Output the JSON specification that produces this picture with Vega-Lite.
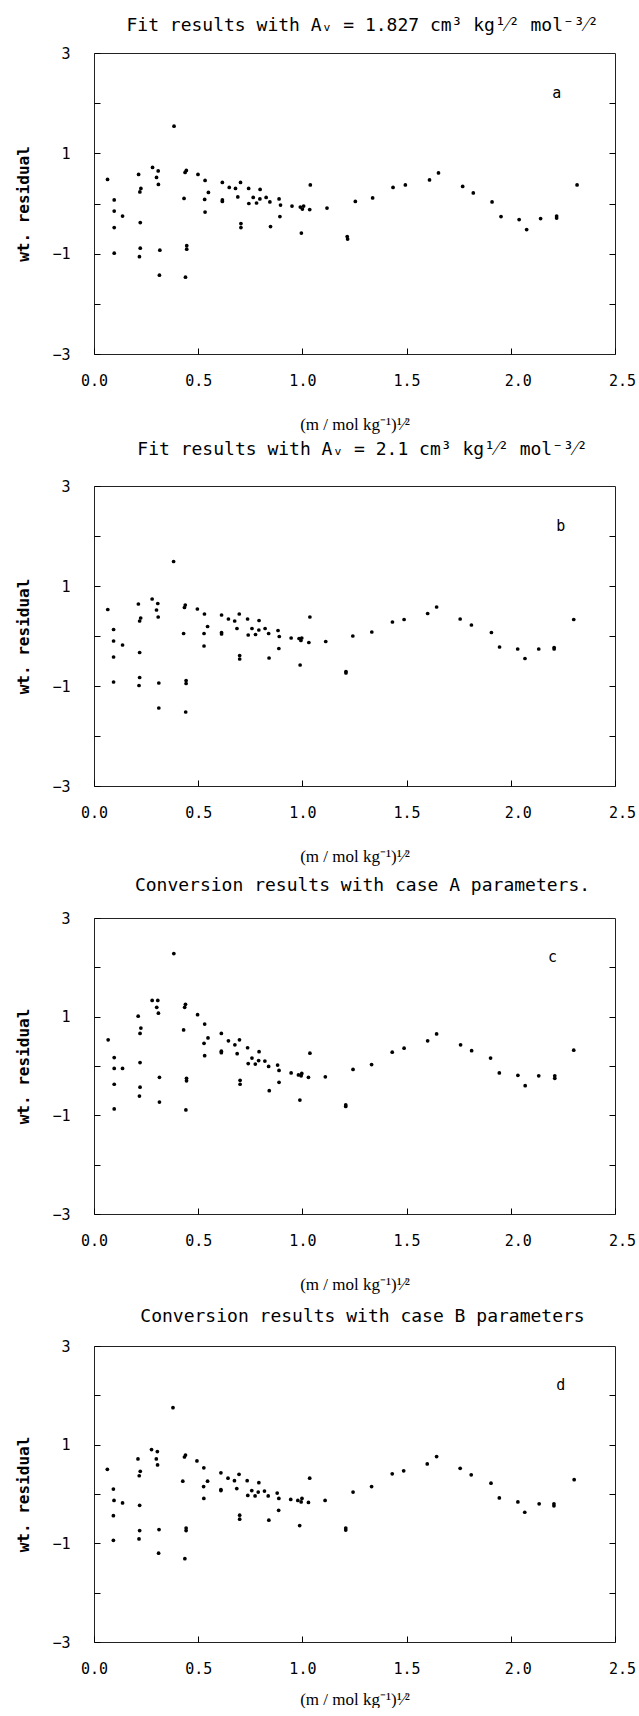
{
  "$schema": "https://vega.github.io/schema/vega-lite/v6.json",
  "padding": {"left": 15, "top": 16, "right": 5, "bottom": 0},
  "spacing": 132,
  "bounds": "flush",
  "config": {
    "view": {"stroke": "#222", "strokeWidth": 1},
    "axis": {"labelFont": "DejaVu Sans Mono", "labelFontSize": 15, "labelColor": "#000", "titleFont": "DejaVu Sans Mono", "titleColor": "#000", "tickColor": "#000", "grid": false, "domain": false},
    "axisX": {"labelFlush": false, "labelOffset": {"condition": {"test": "datum.value >= 1.9", "value": 7}, "value": 0}},
    "title": {"font": "DejaVu Sans Mono", "fontSize": 18, "fontWeight": "normal", "color": "#000", "anchor": "middle", "frame": "group", "offset": 11, "dx": 8}
  },
  "datasets": {
    "a": [
      {"x":0.065,"y":0.48},{"x":0.097,"y":0.07},{"x":0.097,"y":-0.15},{"x":0.097,"y":-0.48},{"x":0.097,"y":-0.99},{"x":0.137,"y":-0.25},
      {"x":0.214,"y":0.58},{"x":0.22,"y":0.23},{"x":0.225,"y":0.30},{"x":0.222,"y":-0.38},{"x":0.222,"y":-0.89},{"x":0.218,"y":-1.06},
      {"x":0.281,"y":0.72},{"x":0.308,"y":0.65},{"x":0.30,"y":0.52},{"x":0.309,"y":0.38},{"x":0.316,"y":-0.93},{"x":0.314,"y":-1.43},
      {"x":0.384,"y":1.54},{"x":0.432,"y":0.10},{"x":0.437,"y":0.62},{"x":0.443,"y":0.66},{"x":0.445,"y":-0.84},{"x":0.445,"y":-0.91},{"x":0.439,"y":-1.47},
      {"x":0.499,"y":0.58},{"x":0.533,"y":0.46},{"x":0.549,"y":0.22},{"x":0.531,"y":0.08},{"x":0.533,"y":-0.17},
      {"x":0.616,"y":0.42},{"x":0.616,"y":0.07},{"x":0.616,"y":0.04},{"x":0.649,"y":0.32},{"x":0.679,"y":0.30},{"x":0.703,"y":0.42},{"x":0.69,"y":0.13},
      {"x":0.705,"y":-0.40},{"x":0.705,"y":-0.48},{"x":0.742,"y":0.30},{"x":0.743,"y":0.0},{"x":0.764,"y":0.12},{"x":0.78,"y":0.01},{"x":0.797,"y":0.28},
      {"x":0.796,"y":0.09},{"x":0.826,"y":0.12},{"x":0.844,"y":0.03},{"x":0.847,"y":-0.46},{"x":0.888,"y":0.09},{"x":0.895,"y":-0.03},{"x":0.892,"y":-0.26},
      {"x":0.95,"y":-0.05},{"x":0.99,"y":-0.07},{"x":1.0,"y":-0.11},{"x":1.006,"y":-0.05},{"x":0.995,"y":-0.59},{"x":1.038,"y":0.37},{"x":1.035,"y":-0.12},
      {"x":1.118,"y":-0.09},{"x":1.215,"y":-0.66},{"x":1.217,"y":-0.71},{"x":1.254,"y":0.04},{"x":1.337,"y":0.11},{"x":1.435,"y":0.32},{"x":1.494,"y":0.37},
      {"x":1.61,"y":0.47},{"x":1.653,"y":0.61},{"x":1.769,"y":0.34},{"x":1.82,"y":0.21},{"x":1.91,"y":0.03},{"x":1.953,"y":-0.26},{"x":2.04,"y":-0.32},
      {"x":2.076,"y":-0.52},{"x":2.143,"y":-0.30},{"x":2.22,"y":-0.25},{"x":2.22,"y":-0.29},{"x":2.318,"y":0.37}
    ],
    "b": [
      {"x":0.066,"y":0.53},{"x":0.094,"y":0.13},{"x":0.094,"y":-0.10},{"x":0.094,"y":-0.42},{"x":0.094,"y":-0.92},{"x":0.137,"y":-0.18},
      {"x":0.213,"y":0.64},{"x":0.219,"y":0.30},{"x":0.224,"y":0.36},{"x":0.219,"y":-0.33},{"x":0.219,"y":-0.83},{"x":0.216,"y":-0.99},
      {"x":0.279,"y":0.74},{"x":0.306,"y":0.65},{"x":0.30,"y":0.52},{"x":0.308,"y":0.38},{"x":0.311,"y":-0.94},{"x":0.311,"y":-1.44},
      {"x":0.382,"y":1.49},{"x":0.43,"y":0.05},{"x":0.434,"y":0.57},{"x":0.438,"y":0.62},{"x":0.442,"y":-0.89},{"x":0.442,"y":-0.95},{"x":0.44,"y":-1.52},
      {"x":0.496,"y":0.54},{"x":0.53,"y":0.44},{"x":0.545,"y":0.19},{"x":0.528,"y":0.05},{"x":0.528,"y":-0.20},
      {"x":0.612,"y":0.42},{"x":0.612,"y":0.07},{"x":0.612,"y":0.04},{"x":0.645,"y":0.34},{"x":0.675,"y":0.30},{"x":0.697,"y":0.44},{"x":0.686,"y":0.15},
      {"x":0.699,"y":-0.39},{"x":0.699,"y":-0.46},{"x":0.737,"y":0.34},{"x":0.74,"y":0.02},{"x":0.758,"y":0.15},{"x":0.775,"y":0.03},{"x":0.792,"y":0.31},
      {"x":0.791,"y":0.12},{"x":0.821,"y":0.15},{"x":0.838,"y":0.05},{"x":0.84,"y":-0.44},{"x":0.883,"y":0.11},{"x":0.889,"y":-0.01},{"x":0.887,"y":-0.25},
      {"x":0.946,"y":-0.04},{"x":0.984,"y":-0.05},{"x":0.993,"y":-0.09},{"x":0.997,"y":-0.04},{"x":0.989,"y":-0.58},{"x":1.036,"y":0.38},{"x":1.031,"y":-0.13},
      {"x":1.112,"y":-0.11},{"x":1.209,"y":-0.71},{"x":1.209,"y":-0.74},{"x":1.242,"y":0.0},{"x":1.333,"y":0.08},{"x":1.432,"y":0.28},{"x":1.488,"y":0.33},
      {"x":1.601,"y":0.45},{"x":1.644,"y":0.58},{"x":1.757,"y":0.34},{"x":1.811,"y":0.22},{"x":1.907,"y":0.07},{"x":1.946,"y":-0.22},{"x":2.033,"y":-0.26},
      {"x":2.068,"y":-0.45},{"x":2.134,"y":-0.26},{"x":2.208,"y":-0.23},{"x":2.208,"y":-0.26},{"x":2.302,"y":0.33}
    ],
    "c": [
      {"x":0.068,"y":0.53},{"x":0.097,"y":0.17},{"x":0.097,"y":-0.05},{"x":0.097,"y":-0.37},{"x":0.097,"y":-0.87},{"x":0.137,"y":-0.05},
      {"x":0.212,"y":1.01},{"x":0.225,"y":0.77},{"x":0.221,"y":0.66},{"x":0.221,"y":0.07},{"x":0.221,"y":-0.43},{"x":0.218,"y":-0.61},
      {"x":0.279,"y":1.33},{"x":0.306,"y":1.33},{"x":0.301,"y":1.19},{"x":0.309,"y":1.07},{"x":0.314,"y":-0.23},{"x":0.314,"y":-0.73},
      {"x":0.383,"y":2.28},{"x":0.43,"y":0.73},{"x":0.435,"y":1.19},{"x":0.439,"y":1.25},{"x":0.444,"y":-0.25},{"x":0.444,"y":-0.30},{"x":0.441,"y":-0.89},
      {"x":0.497,"y":1.04},{"x":0.531,"y":0.85},{"x":0.547,"y":0.57},{"x":0.528,"y":0.46},{"x":0.531,"y":0.21},
      {"x":0.611,"y":0.66},{"x":0.611,"y":0.30},{"x":0.611,"y":0.27},{"x":0.645,"y":0.51},{"x":0.676,"y":0.43},{"x":0.698,"y":0.53},{"x":0.687,"y":0.25},
      {"x":0.701,"y":-0.29},{"x":0.701,"y":-0.37},{"x":0.737,"y":0.37},{"x":0.74,"y":0.05},{"x":0.758,"y":0.16},{"x":0.774,"y":0.04},{"x":0.792,"y":0.29},
      {"x":0.79,"y":0.11},{"x":0.82,"y":0.10},{"x":0.838,"y":-0.01},{"x":0.841,"y":-0.50},{"x":0.881,"y":0.02},{"x":0.888,"y":-0.09},{"x":0.888,"y":-0.33},
      {"x":0.946,"y":-0.14},{"x":0.981,"y":-0.18},{"x":0.994,"y":-0.20},{"x":0.997,"y":-0.15},{"x":0.988,"y":-0.69},{"x":1.036,"y":0.26},{"x":1.029,"y":-0.23},
      {"x":1.11,"y":-0.22},{"x":1.208,"y":-0.79},{"x":1.208,"y":-0.82},{"x":1.243,"y":-0.07},{"x":1.332,"y":0.03},{"x":1.431,"y":0.28},{"x":1.488,"y":0.36},
      {"x":1.601,"y":0.51},{"x":1.644,"y":0.65},{"x":1.759,"y":0.43},{"x":1.812,"y":0.31},{"x":1.903,"y":0.16},{"x":1.945,"y":-0.14},{"x":2.034,"y":-0.19},
      {"x":2.069,"y":-0.40},{"x":2.134,"y":-0.20},{"x":2.211,"y":-0.20},{"x":2.211,"y":-0.25},{"x":2.302,"y":0.32}
    ],
    "d": [
      {"x":0.064,"y":0.50},{"x":0.093,"y":0.10},{"x":0.096,"y":-0.13},{"x":0.093,"y":-0.44},{"x":0.093,"y":-0.94},{"x":0.137,"y":-0.18},
      {"x":0.211,"y":0.71},{"x":0.222,"y":0.46},{"x":0.217,"y":0.37},{"x":0.219,"y":-0.23},{"x":0.219,"y":-0.74},{"x":0.216,"y":-0.91},
      {"x":0.276,"y":0.90},{"x":0.304,"y":0.86},{"x":0.299,"y":0.71},{"x":0.305,"y":0.59},{"x":0.312,"y":-0.72},{"x":0.310,"y":-1.20},
      {"x":0.379,"y":1.75},{"x":0.426,"y":0.26},{"x":0.434,"y":0.75},{"x":0.439,"y":0.79},{"x":0.442,"y":-0.69},{"x":0.442,"y":-0.74},{"x":0.436,"y":-1.31},
      {"x":0.494,"y":0.67},{"x":0.527,"y":0.53},{"x":0.545,"y":0.26},{"x":0.526,"y":0.15},{"x":0.527,"y":-0.09},
      {"x":0.609,"y":0.43},{"x":0.609,"y":0.09},{"x":0.609,"y":0.07},{"x":0.643,"y":0.32},{"x":0.674,"y":0.27},{"x":0.696,"y":0.40},{"x":0.685,"y":0.11},
      {"x":0.699,"y":-0.43},{"x":0.699,"y":-0.51},{"x":0.735,"y":0.27},{"x":0.738,"y":-0.03},{"x":0.757,"y":0.07},{"x":0.773,"y":-0.04},{"x":0.791,"y":0.23},
      {"x":0.788,"y":0.04},{"x":0.818,"y":0.06},{"x":0.836,"y":-0.04},{"x":0.839,"y":-0.53},{"x":0.879,"y":0.02},{"x":0.887,"y":-0.09},{"x":0.886,"y":-0.33},
      {"x":0.944,"y":-0.11},{"x":0.978,"y":-0.13},{"x":0.994,"y":-0.16},{"x":0.998,"y":-0.09},{"x":0.987,"y":-0.64},{"x":1.035,"y":0.32},{"x":1.029,"y":-0.17},
      {"x":1.109,"y":-0.13},{"x":1.208,"y":-0.69},{"x":1.208,"y":-0.73},{"x":1.243,"y":0.04},{"x":1.332,"y":0.15},{"x":1.431,"y":0.41},{"x":1.486,"y":0.47},
      {"x":1.599,"y":0.61},{"x":1.644,"y":0.76},{"x":1.757,"y":0.52},{"x":1.81,"y":0.39},{"x":1.905,"y":0.22},{"x":1.945,"y":-0.08},{"x":2.034,"y":-0.16},
      {"x":2.067,"y":-0.37},{"x":2.136,"y":-0.20},{"x":2.207,"y":-0.20},{"x":2.207,"y":-0.24},{"x":2.304,"y":0.29}
    ]
  },
  "vconcat": [
    {
      "width": 521, "height": 301,
      "title": {"text": "Fit results with Aᵥ = 1.827 cm³ kg¹⁄² mol⁻³⁄²", "offset": 11},
      "resolve": {"axis": {"x": "independent", "y": "independent"}},
      "layer": [
        {"data": {"name": "a"}, "mark": {"type": "point", "filled": true, "size": 14, "color": "#000", "opacity": 1},
         "encoding": {
           "x": {"field": "x", "type": "quantitative", "scale": {"domain": [0, 2.5], "nice": false, "zero": false}, "axis": {"values": [0, 0.5, 1, 1.5, 2, 2.5], "format": ".1f", "tickSize": -6, "labelPadding": 25, "title": "(m / mol kg⁻¹)¹⁄²", "titleFont": "Liberation Serif", "titleFontSize": 17, "titleFontWeight": "normal", "titlePadding": 28}},
           "y": {"field": "y", "type": "quantitative", "scale": {"domain": [-3, 3], "nice": false}, "axis": {"values": [-3, -2, -1, 0, 1, 2, 3], "labelExpr": "abs(datum.value) % 2 == 1 ? datum.label : ''", "tickSize": -6, "labelPadding": 30, "title": "wt. residual", "titleFontSize": 16, "titleFontWeight": "bold", "titlePadding": 20}}
         }},
        {"mark": {"type": "rule", "color": "#000", "strokeWidth": 1.3},
         "encoding": {"y": {"datum": 0, "type": "quantitative", "axis": {"orient": "right", "labels": false, "tickSize": -6, "values": [-2, -1, 0, 1, 2], "title": null}}}},
        {"data": {"values": [{"t": "a"}]}, "mark": {"type": "text", "fontSize": 15, "font": "DejaVu Sans Mono", "color": "#000"},
         "encoding": {"x": {"datum": 2.22, "type": "quantitative", "axis": null}, "y": {"datum": 2.2, "type": "quantitative", "axis": null}, "text": {"field": "t"}}}
      ]
    },
    {
      "width": 521, "height": 300,
      "title": {"text": "Fit results with Aᵥ = 2.1 cm³ kg¹⁄² mol⁻³⁄²", "offset": 20},
      "resolve": {"axis": {"x": "independent", "y": "independent"}},
      "layer": [
        {"data": {"name": "b"}, "mark": {"type": "point", "filled": true, "size": 14, "color": "#000", "opacity": 1},
         "encoding": {
           "x": {"field": "x", "type": "quantitative", "scale": {"domain": [0, 2.5], "nice": false, "zero": false}, "axis": {"values": [0, 0.5, 1, 1.5, 2, 2.5], "format": ".1f", "tickSize": -6, "labelPadding": 25, "title": "(m / mol kg⁻¹)¹⁄²", "titleFont": "Liberation Serif", "titleFontSize": 17, "titleFontWeight": "normal", "titlePadding": 28}},
           "y": {"field": "y", "type": "quantitative", "scale": {"domain": [-3, 3], "nice": false}, "axis": {"values": [-3, -2, -1, 0, 1, 2, 3], "labelExpr": "abs(datum.value) % 2 == 1 ? datum.label : ''", "tickSize": -6, "labelPadding": 30, "title": "wt. residual", "titleFontSize": 16, "titleFontWeight": "bold", "titlePadding": 20}}
         }},
        {"mark": {"type": "rule", "color": "#000", "strokeWidth": 1.3},
         "encoding": {"y": {"datum": 0, "type": "quantitative", "axis": {"orient": "right", "labels": false, "tickSize": -6, "values": [-2, -1, 0, 1, 2], "title": null}}}},
        {"data": {"values": [{"t": "b"}]}, "mark": {"type": "text", "fontSize": 15, "font": "DejaVu Sans Mono", "color": "#000"},
         "encoding": {"x": {"datum": 2.24, "type": "quantitative", "axis": null}, "y": {"datum": 2.2, "type": "quantitative", "axis": null}, "text": {"field": "t"}}}
      ]
    },
    {
      "width": 521, "height": 296,
      "title": {"text": "Conversion results with case A parameters.", "offset": 16},
      "resolve": {"axis": {"x": "independent", "y": "independent"}},
      "layer": [
        {"data": {"name": "c"}, "mark": {"type": "point", "filled": true, "size": 14, "color": "#000", "opacity": 1},
         "encoding": {
           "x": {"field": "x", "type": "quantitative", "scale": {"domain": [0, 2.5], "nice": false, "zero": false}, "axis": {"values": [0, 0.5, 1, 1.5, 2, 2.5], "format": ".1f", "tickSize": -6, "labelPadding": 25, "title": "(m / mol kg⁻¹)¹⁄²", "titleFont": "Liberation Serif", "titleFontSize": 17, "titleFontWeight": "normal", "titlePadding": 28}},
           "y": {"field": "y", "type": "quantitative", "scale": {"domain": [-3, 3], "nice": false}, "axis": {"values": [-3, -2, -1, 0, 1, 2, 3], "labelExpr": "abs(datum.value) % 2 == 1 ? datum.label : ''", "tickSize": -6, "labelPadding": 30, "title": "wt. residual", "titleFontSize": 16, "titleFontWeight": "bold", "titlePadding": 20}}
         }},
        {"mark": {"type": "rule", "color": "#000", "strokeWidth": 1.3},
         "encoding": {"y": {"datum": 0, "type": "quantitative", "axis": {"orient": "right", "labels": false, "tickSize": -6, "values": [-2, -1, 0, 1, 2], "title": null}}}},
        {"data": {"values": [{"t": "c"}]}, "mark": {"type": "text", "fontSize": 15, "font": "DejaVu Sans Mono", "color": "#000"},
         "encoding": {"x": {"datum": 2.2, "type": "quantitative", "axis": null}, "y": {"datum": 2.2, "type": "quantitative", "axis": null}, "text": {"field": "t"}}}
      ]
    },
    {
      "width": 521, "height": 296,
      "title": {"text": "Conversion results with case B parameters", "offset": 13},
      "resolve": {"axis": {"x": "independent", "y": "independent"}},
      "layer": [
        {"data": {"name": "d"}, "mark": {"type": "point", "filled": true, "size": 14, "color": "#000", "opacity": 1},
         "encoding": {
           "x": {"field": "x", "type": "quantitative", "scale": {"domain": [0, 2.5], "nice": false, "zero": false}, "axis": {"values": [0, 0.5, 1, 1.5, 2, 2.5], "format": ".1f", "tickSize": -6, "labelPadding": 25, "title": "(m / mol kg⁻¹)¹⁄²", "titleFont": "Liberation Serif", "titleFontSize": 17, "titleFontWeight": "normal", "titlePadding": 15}},
           "y": {"field": "y", "type": "quantitative", "scale": {"domain": [-3, 3], "nice": false}, "axis": {"values": [-3, -2, -1, 0, 1, 2, 3], "labelExpr": "abs(datum.value) % 2 == 1 ? datum.label : ''", "tickSize": -6, "labelPadding": 30, "title": "wt. residual", "titleFontSize": 16, "titleFontWeight": "bold", "titlePadding": 20}}
         }},
        {"mark": {"type": "rule", "color": "#000", "strokeWidth": 1.3},
         "encoding": {"y": {"datum": 0, "type": "quantitative", "axis": {"orient": "right", "labels": false, "tickSize": -6, "values": [-2, -1, 0, 1, 2], "title": null}}}},
        {"data": {"values": [{"t": "d"}]}, "mark": {"type": "text", "fontSize": 15, "font": "DejaVu Sans Mono", "color": "#000"},
         "encoding": {"x": {"datum": 2.24, "type": "quantitative", "axis": null}, "y": {"datum": 2.2, "type": "quantitative", "axis": null}, "text": {"field": "t"}}}
      ]
    }
  ]
}
